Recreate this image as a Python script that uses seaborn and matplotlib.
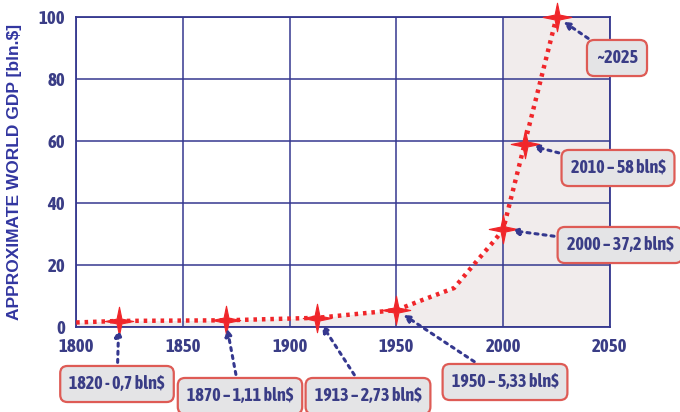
import matplotlib
matplotlib.use("Agg")
import matplotlib.pyplot as plt
from matplotlib.path import Path
import numpy as np
import pandas as pd
import seaborn as sns

# line (the drawn curve, not the label values)
years = [1800, 1820, 1870, 1913, 1950, 1962, 1977, 1988, 1996, 2000, 2010, 2025]
gdp = [1.5, 2.0, 2.2, 3.0, 5.5, 8.7, 12.6, 21.6, 28.0, 31.5, 59.0, 100.0]

star_years = [1820, 1870, 1913, 1950, 2000, 2010, 2025]
star_gdp = [2.0, 2.2, 3.0, 5.5, 31.5, 59.0, 100.0]
star_labels = ['1820 - 0,7 bln$', '1870 – 1,11 bln$', '1913 – 2,73 bln$',
               '1950 – 5,33 bln$', '2000 – 37,2 bln$', '2010 – 58 bln$', '~2025']
# box centres in figure pixels (from bottom left)
label_pos = [(117, 28), (240, 16), (368, 16), (505, 30), (620, 167), (618, 244), (617, 354)]

x_ticks = [1800, 1850, 1900, 1950, 2000, 2050]
y_ticks = [0, 20, 40, 60, 80, 100]

NAVY = '#35388f'
TEXT = '#3a3d86'
RED = '#f0262a'
FONT = ['Asap Condensed', 'Roboto Condensed', 'Liberation Sans Narrow', 'DejaVu Sans']


def star_marker():
    # slim four pointed star
    ang = np.arange(8) * np.pi / 4 + np.pi / 2
    r = np.where(np.arange(8) % 2 == 0, 1.0, 0.24)
    verts = np.column_stack([r * np.cos(ang), r * np.sin(ang)])
    verts = np.vstack([verts, verts[:1]])
    return Path(verts, closed=True)


def show_chart():
    sns.set_style('white')
    plt.rcParams['font.family'] = FONT
    fig = plt.figure(figsize=(6.8, 4.12), dpi=100)
    ax = fig.add_axes([0.112, 0.206, 0.785, 0.753])

    df = pd.DataFrame({'year': years, 'gdp': gdp})
    stars = pd.DataFrame({'year': star_years, 'gdp': star_gdp})

    ax.axvspan(2000, 2050, color='#f1ecec', zorder=0, lw=0)
    ax.fill_between(years + [2050], gdp + [100], color='#f1ecec', zorder=0, lw=0)

    sns.lineplot(data=df, x='year', y='gdp', ax=ax, color=RED, lw=3.2,
                 linestyle=(0, (0.8, 1.1)), zorder=3)
    sns.scatterplot(data=stars, x='year', y='gdp', ax=ax, marker=star_marker(),
                    s=420, color=RED, edgecolor=RED, linewidth=0.8, zorder=4)
    ax.collections[-1].set_clip_on(False)

    ax.set_xlim(1800, 2050)
    ax.set_ylim(0, 100)
    ax.set_xticks(x_ticks)
    ax.set_yticks(y_ticks)
    ax.grid(True, color=NAVY, lw=1.1, zorder=1)
    ax.set_axisbelow(True)
    for s in ax.spines.values():
        s.set_color(NAVY)
        s.set_linewidth(1.3)
    ax.tick_params(length=0, pad=8, labelsize=13.5, colors=TEXT)
    for t in ax.get_xticklabels() + ax.get_yticklabels():
        t.set_fontweight('bold')
    ax.set_xlabel('')
    ax.set_ylabel('APPROXIMATE WORLD GDP [bln.$]', fontsize=12.5, fontweight='bold',
                  color='#3236a0', labelpad=12, family=['Liberation Sans', 'DejaVu Sans'])

    for x, y, lab, (px, py) in zip(star_years, star_gdp, star_labels, label_pos):
        ax.annotate(lab, xy=(x, y), xycoords='data', xytext=(px, py),
                    textcoords='figure pixels', ha='center', va='center',
                    fontsize=13, fontweight='bold', color=TEXT,
                    bbox=dict(boxstyle='round,pad=0.5,rounding_size=0.4',
                              fc='#e4e4e6', ec='#de5b55', lw=1.6),
                    arrowprops=dict(arrowstyle='-|>', linestyle=':', color=NAVY,
                                    lw=2.2, shrinkA=2, shrinkB=6, mutation_scale=10),
                    annotation_clip=False, zorder=5)

    fig.savefig('out.png', dpi=100)


if __name__ == '__main__':
    show_chart()
